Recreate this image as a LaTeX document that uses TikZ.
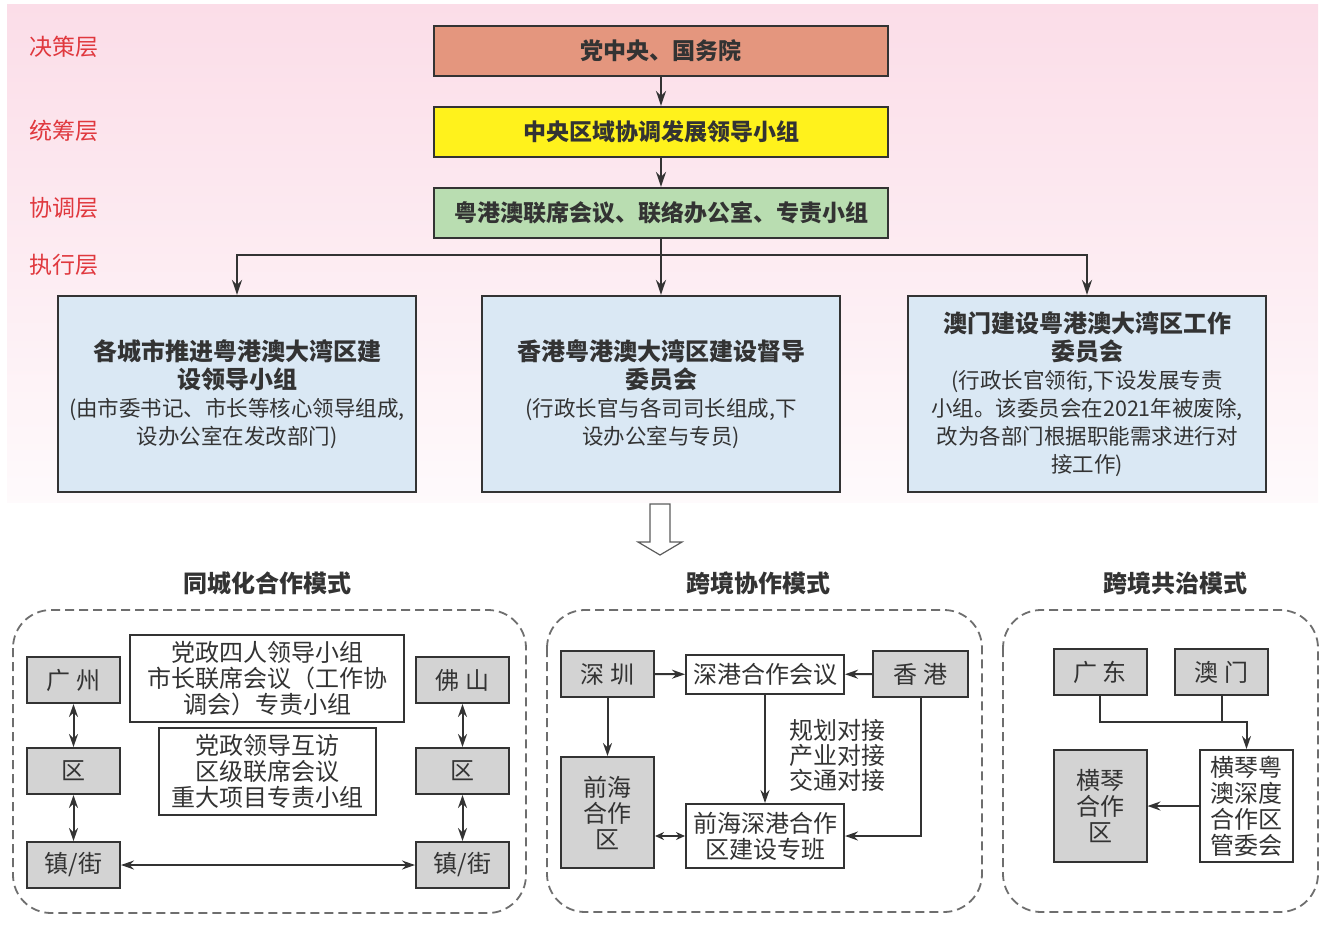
\documentclass[tikz,border=0pt]{standalone}
\usepackage{fontspec}
\setmainfont{Noto Sans CJK SC}
\newfontfamily\cjk{Noto Sans CJK SC}
\usepackage{tikz}
\usetikzlibrary{arrows.meta}
\definecolor{layerred}{HTML}{E0383E}
\definecolor{decide}{HTML}{E4967E}
\definecolor{plan}{HTML}{FFF21C}
\definecolor{coord}{HTML}{B9DDB1}
\definecolor{execblue}{HTML}{DAE8F4}
\definecolor{bgpink}{HTML}{FBDDE8}
\definecolor{unitgray}{HTML}{D3D3D3}
\definecolor{frame}{HTML}{6E6E6E}
\definecolor{ink}{HTML}{333333}
\newcommand\remarkfont{\mdseries\fontsize{21.5}{28}\selectfont}
\tikzset{
  layer/.style={text=layerred, font=\cjk\fontsize{23}{23}\selectfont},
  levelbox/.style={draw=ink, line width=2.2pt, minimum width=454, minimum height=50, inner sep=0pt, text=ink, font=\cjk\bfseries\fontsize{23}{23}\selectfont},
  execbox/.style={draw=ink, line width=2.2pt, fill=execblue, minimum width=358, minimum height=196, inner sep=0pt, align=center, text=ink, font=\cjk\bfseries\fontsize{24}{28}\selectfont},
  paneltitle/.style={text=ink, font=\cjk\bfseries\fontsize{24}{24}\selectfont},
  panel/.style={draw=frame, line width=1.8pt, dash pattern=on 9pt off 5pt, rounded corners=38pt},
  unitbox/.style={draw=ink, line width=2pt, fill=unitgray, minimum width=93, minimum height=46, inner sep=0pt, align=center, text=ink, font=\cjk\fontsize{24}{26}\selectfont},
  mechbox/.style={unitbox, fill=white},
  flow/.style={draw=ink, line width=2.2pt, >={Stealth[length=15pt,width=10pt]}},
  link/.style={draw=ink, line width=2pt}
}

\begin{document}
\begin{tikzpicture}[x=1pt,y=-1pt,>={Stealth[length=13pt,width=9pt]}]
\useasboundingbox (0,0) rectangle (1323,924);
\shade[top color=bgpink, middle color=bgpink!85, bottom color=bgpink!15] (7,4) rectangle (1318,502);

\node[layer] (lDecide) at (64,47) {决策层};
\node[layer] (lPlan) at (64,131) {统筹层};
\node[layer] (lCoord) at (64,208) {协调层};
\node[layer] (lExec) at (64,265) {执行层};

\node[levelbox, fill=decide] (central) at (661,51) {党中央、国务院};
\node[levelbox, fill=plan] (leading) at (661,132) {中央区域协调发展领导小组};
\node[levelbox, fill=coord] (joint) at (661,213) {粤港澳联席会议、联络办公室、专责小组};

\node[execbox] (cityGroup) at (237,394) {各城市推进粤港澳大湾区建\\设领导小组\\\remarkfont (由市委书记、市长等核心领导组成,\\\remarkfont 设办公室在发改部门)};
\node[execbox] (hkGroup) at (661,394) {香港粤港澳大湾区建设督导\\委员会\\\remarkfont (行政长官与各司司长组成,下\\\remarkfont 设办公室与专员)};
\node[execbox] (mcGroup) at (1087,394) {澳门建设粤港澳大湾区工作\\委员会\\\remarkfont (行政长官领衔,下设发展专责\\\remarkfont 小组。该委员会在2021年被废除,\\\remarkfont 改为各部门根据职能需求进行对\\\remarkfont 接工作)};

\coordinate (split) at (661,255);
\draw[flow,->] (central) -- (leading);
\draw[flow,->] (leading) -- (joint);
\draw[flow] (joint) -- (split);
\draw[flow,->] (split) -- (hkGroup);
\draw[flow,->] (split) -| (cityGroup);
\draw[flow,->] (split) -| (mcGroup);

\draw[ink!80, line width=1.2pt, fill=white] (650,504) -- (670,504) -- (670,542) -- (682,542) -- (660,555) -- (638,542) -- (650,542) -- cycle;

\node[paneltitle] (sameCityTitle) at (267,583) {同城化合作模式};
\node[paneltitle] (crossCoopTitle) at (758,583) {跨境协作模式};
\node[paneltitle] (coGovTitle) at (1175,583) {跨境共治模式};

\draw[panel] (13,610) rectangle (526,913);
\draw[panel] (547,610) rectangle (982,912);
\draw[panel] (1003,610) rectangle (1318,912);

\node[unitbox] (guangzhou) at (73.5,680) {广 州};
\node[unitbox] (gzDistrict) at (73.5,771) {区};
\node[unitbox] (gzTown) at (73.5,865) {镇/街};
\node[unitbox] (foshan) at (462.5,680) {佛 山};
\node[unitbox] (fsDistrict) at (462.5,771) {区};
\node[unitbox] (fsTown) at (462.5,865) {镇/街};
\node[mechbox, minimum width=274, minimum height=87] (cityMech) at (267,678.5) {党政四人领导小组\\市长联席会议（工作协\\调会）专责小组};
\node[mechbox, minimum width=217, minimum height=87] (districtMech) at (267.5,771.5) {党政领导互访\\区级联席会议\\重大项目专责小组};
\draw[link,<->] (guangzhou) -- (gzDistrict);
\draw[link,<->] (gzDistrict) -- (gzTown);
\draw[link,<->] (foshan) -- (fsDistrict);
\draw[link,<->] (fsDistrict) -- (fsTown);
\draw[link,<->] (gzTown) -- (fsTown);

\node[unitbox] (shenzhen) at (607.5,674) {深 圳};
\node[mechbox, minimum width=158, minimum height=39] (szhkMeeting) at (765,674.5) {深港合作会议};
\node[unitbox, minimum width=95] (hongkong) at (920.5,674) {香 港};
\node[unitbox, minimum height=111] (qianhai) at (607.5,812.5) {前海\\合作\\区};
\node[mechbox, minimum width=158, minimum height=64] (taskForce) at (765,836) {前海深港合作\\区建设专班};
\node[text=ink, align=center, font=\cjk\fontsize{24}{25}\selectfont] (docking) at (837,755) {规划对接\\产业对接\\交通对接};
\draw[link,->] (shenzhen) -- (szhkMeeting);
\draw[link,->] (hongkong) -- (szhkMeeting);
\draw[link,->] (shenzhen) -- (qianhai);
\draw[link,->] (szhkMeeting) -- (taskForce);
\draw[link,->] (hongkong.south) |- (taskForce.east);
\draw[link,<->,>={Stealth[length=9pt,width=8pt]}] (taskForce.west) -- (taskForce.west -| qianhai.east);

\node[unitbox] (guangdong) at (1100,672) {广 东};
\node[unitbox] (macao) at (1221.5,672) {澳 门};
\node[unitbox, minimum height=112] (hqZone) at (1100,806) {横琴\\合作\\区};
\node[mechbox, minimum height=112] (hqBoard) at (1246.5,806) {横琴粤\\澳深度\\合作区\\管委会};
\coordinate (merge) at (1246.5,722);
\draw[link,->] (guangdong.south) |- (merge) -- (hqBoard.north);
\draw[link] (macao.south) -- (macao.south |- merge);
\draw[link,->] (hqBoard) -- (hqZone);
\end{tikzpicture}
\end{document}
